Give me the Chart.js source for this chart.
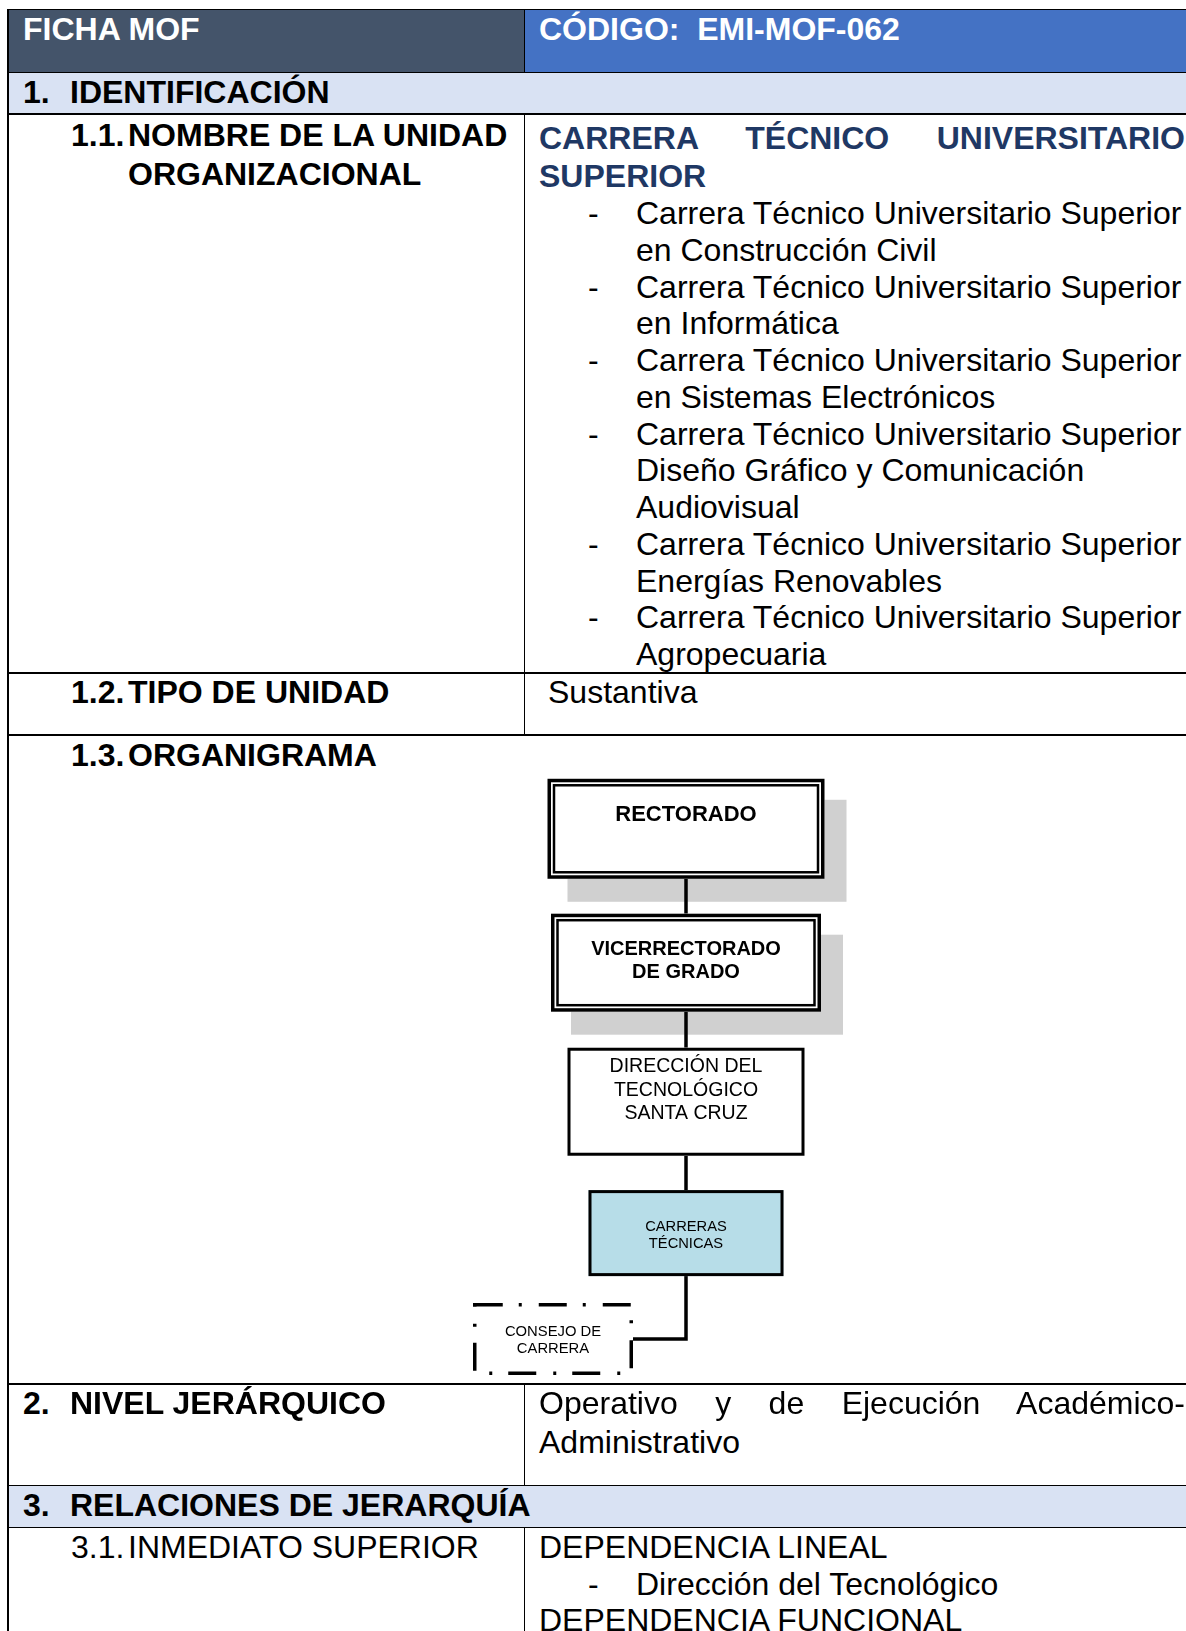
<!DOCTYPE html>
<html lang="es">
<head>
<meta charset="utf-8">
<title>FICHA MOF - EMI-MOF-062</title>
<script src="https://cdn.jsdelivr.net/npm/chart.js@4.4.1/dist/chart.umd.min.js"></script>
<style>
  html, body { margin: 0; padding: 0; background: #fff; }
  body { width: 1186px; height: 1631px; overflow: hidden; position: relative;
         font-family: "Liberation Sans", Arial, sans-serif; font-size: 32px; color: #000; }
  .abs { position: absolute; white-space: nowrap; line-height: 36.75px; }
  .b { font-weight: bold; }
  .fill { position: absolute; }
  .hl { position: absolute; background: #000; left: 7px; width: 1179px; }
  .vl { position: absolute; background: #000; left: 524px; width: 1px; }
  .just { text-align: justify; text-align-last: justify; white-space: normal; }
  #org { position: absolute; left: 420px; top: 765px; }
</style>
</head>
<body>

<!-- fondos -->
<div class="fill" style="left:8px;top:10px;width:516px;height:62px;background:#44546A"></div>
<div class="fill" style="left:525px;top:10px;width:661px;height:62px;background:#4472C4"></div>
<div class="fill" style="left:8px;top:73px;width:1178px;height:40px;background:#D9E2F3"></div>
<div class="fill" style="left:8px;top:1486px;width:1178px;height:41px;background:#D9E2F3"></div>

<!-- lineas de la tabla -->
<div class="hl" style="top:9px;height:1px"></div>
<div class="hl" style="top:72px;height:1px"></div>
<div class="hl" style="top:113px;height:1.5px"></div>
<div class="hl" style="top:672px;height:2px"></div>
<div class="hl" style="top:734px;height:2px"></div>
<div class="hl" style="top:1383px;height:1.5px"></div>
<div class="hl" style="top:1485px;height:1px"></div>
<div class="hl" style="top:1527px;height:1px"></div>
<div style="position:absolute;left:6.5px;top:9px;width:2px;height:1622px;background:#000"></div>
<div class="vl" style="top:10px;height:62px"></div>
<div class="vl" style="top:114px;height:558px"></div>
<div class="vl" style="top:674px;height:60px"></div>
<div class="vl" style="top:1384px;height:101px"></div>
<div class="vl" style="top:1528px;height:103px"></div>

<!-- cabecera -->
<div class="abs b" style="left:23px;top:11px;color:#fff">FICHA MOF</div>
<div class="abs b" style="left:539px;top:11px;color:#fff">CÓDIGO:&nbsp; EMI-MOF-062</div>

<!-- 1. identificacion -->
<div class="abs b" style="left:23px;top:73.5px">1.</div>
<div class="abs b" style="left:70px;top:73.5px">IDENTIFICACIÓN</div>

<div class="abs b" style="left:71px;top:116px;line-height:38.5px">1.1.</div>
<div class="abs b" style="left:128px;top:116px;line-height:38.5px">NOMBRE DE LA UNIDAD<br>ORGANIZACIONAL</div>

<div class="abs b just" style="left:539px;top:120px;width:646px;color:#1F3864;line-height:37.5px">CARRERA TÉCNICO UNIVERSITARIO</div>
<div class="abs b" style="left:539px;top:157.5px;color:#1F3864;line-height:37.5px">SUPERIOR</div>

<div id="lista"></div>

<div class="abs b" style="left:71px;top:674px">1.2.</div>
<div class="abs b" style="left:128px;top:674px">TIPO DE UNIDAD</div>
<div class="abs" style="left:548px;top:674px">Sustantiva</div>

<div class="abs b" style="left:71px;top:737px">1.3.</div>
<div class="abs b" style="left:128px;top:737px">ORGANIGRAMA</div>

<canvas id="org" width="532" height="625"></canvas>

<!-- 2. nivel -->
<div class="abs b" style="left:23px;top:1385px">2.</div>
<div class="abs b" style="left:70px;top:1385px">NIVEL JERÁRQUICO</div>
<div class="abs just" style="left:539px;top:1385px;width:646px">Operativo y de Ejecución Académico-</div>
<div class="abs" style="left:539px;top:1424px">Administrativo</div>

<!-- 3. relaciones -->
<div class="abs b" style="left:23px;top:1487px">3.</div>
<div class="abs b" style="left:70px;top:1487px">RELACIONES DE JERARQUÍA</div>

<div class="abs" style="left:71px;top:1529px">3.1.</div>
<div class="abs" style="left:128px;top:1529px">INMEDIATO SUPERIOR</div>
<div class="abs" style="left:539px;top:1529px">DEPENDENCIA LINEAL</div>
<div class="abs" style="left:588px;top:1566px">-</div>
<div class="abs" style="left:636px;top:1566px">Dirección del Tecnológico</div>
<div class="abs" style="left:539px;top:1602px">DEPENDENCIA FUNCIONAL</div>

<script>
// carreras de la unidad (cada una en dos o tres renglones, como en la ficha)
const carreras = [
    ['Carrera Técnico Universitario Superior', 'en Construcción Civil'],
    ['Carrera Técnico Universitario Superior', 'en Informática'],
    ['Carrera Técnico Universitario Superior', 'en Sistemas Electrónicos'],
    ['Carrera Técnico Universitario Superior', 'Diseño Gráfico y Comunicación', 'Audiovisual'],
    ['Carrera Técnico Universitario Superior', 'Energías Renovables'],
    ['Carrera Técnico Universitario Superior', 'Agropecuaria']
];

// organigrama: nombres, nivel jerarquico, columna y padre
const nodeNames = [
    'RECTORADO',
    'VICERRECTORADO\nDE GRADO',
    'DIRECCIÓN DEL\nTECNOLÓGICO\nSANTA CRUZ',
    'CARRERAS\nTÉCNICAS',
    'CONSEJO DE\nCARRERA'
];
const nodeLevel = [0, 1.05, 2.14, 3.17, 4];
const nodeColumn = [0, 0, 0, 0, -1];
const nodeParent = [-1, 0, 1, 2, 3];

// lista de carreras
let lista = document.getElementById('lista');
let y = 195;
carreras.forEach(c => {
    let d = document.createElement('div');
    d.className = 'abs';
    d.style.left = '588px';
    d.style.top = y + 'px';
    d.textContent = '-';
    lista.appendChild(d);
    c.forEach(line => {
        let t = document.createElement('div');
        t.className = 'abs';
        t.style.left = '636px';
        t.style.top = y + 'px';
        t.textContent = line;
        lista.appendChild(t);
        y += 36.75;
    });
});

// estilo de cada caja
const boxStyle = [
    { w: 277, h: 100, kind: 'double', shadow: true, font: 'bold 22px', lh: 23, shift: -14, fill: '#fff' },
    { w: 270, h: 98, kind: 'double', shadow: true, font: 'bold 20px', lh: 23, shift: -1.5, fill: '#fff' },
    { w: 237, h: 108, kind: 'solid', shadow: false, font: '19.5px', lh: 23.5, shift: -11.5, fill: '#fff' },
    { w: 195, h: 86, kind: 'solid', shadow: false, font: '14.7px', lh: 17.5, shift: 2.5, fill: '#B7DDE8' },
    { w: 160, h: 72, kind: 'dashdot', shadow: false, font: '14.8px', lh: 17.5, shift: 1.5, fill: 'rgba(0,0,0,0)' }
];

const orgPlugin = {
    id: 'orgBoxes',
    afterDatasetsDraw(chart) {
        const ctx = chart.ctx;
        const pts = chart.getDatasetMeta(0).data;
        ctx.save();

        // sombras primero
        pts.forEach((pt, i) => {
            const s = boxStyle[i];
            if (!s.shadow) return;
            ctx.fillStyle = '#D0D0D0';
            ctx.fillRect(pt.x - s.w / 2 + 20, pt.y - s.h / 2 + 21, s.w + 2, s.h + 2);
        });

        // conectores
        ctx.strokeStyle = '#000';
        ctx.lineWidth = 3.5;
        ctx.lineCap = 'butt';
        nodeParent.forEach((p, i) => {
            if (p < 0) return;
            const a = pts[p], b = pts[i];
            const top = a.y + boxStyle[p].h / 2;
            ctx.beginPath();
            if (Math.abs(a.x - b.x) < 1) {
                ctx.moveTo(a.x, top);
                ctx.lineTo(b.x, b.y - boxStyle[i].h / 2);
            } else {
                ctx.moveTo(a.x, top);
                ctx.lineTo(a.x, b.y);
                ctx.lineTo(b.x + boxStyle[i].w / 2, b.y);
            }
            ctx.stroke();
        });

        // cajas
        pts.forEach((pt, i) => {
            const s = boxStyle[i];
            const x0 = pt.x - s.w / 2, y0 = pt.y - s.h / 2;
            ctx.fillStyle = s.fill;
            ctx.fillRect(x0, y0, s.w, s.h);
            ctx.strokeStyle = '#000';
            ctx.setLineDash([]);
            if (s.kind === 'double') {
                ctx.lineWidth = 3.5;
                ctx.strokeRect(x0 + 1.75, y0 + 1.75, s.w - 3.5, s.h - 3.5);
                ctx.lineWidth = 2.5;
                ctx.strokeRect(x0 + 6.5, y0 + 6.5, s.w - 13, s.h - 13);
            } else if (s.kind === 'solid') {
                ctx.lineWidth = 3;
                ctx.strokeRect(x0 + 1.5, y0 + 1.5, s.w - 3, s.h - 3);
            } else {
                ctx.lineWidth = 3.5;
                ctx.setLineDash([28, 16, 3, 17]);
                ctx.strokeRect(x0 + 1.75, y0 + 1.75, s.w - 3.5, s.h - 3.5);
                ctx.setLineDash([]);
            }

            // texto
            const lines = nodeNames[i].split('\n');
            ctx.fillStyle = '#000';
            ctx.font = s.font + ' "Liberation Sans", Arial, sans-serif';
            ctx.textAlign = 'center';
            ctx.textBaseline = 'middle';
            const startY = pt.y + s.shift - (lines.length - 1) * s.lh / 2;
            lines.forEach((l, k) => ctx.fillText(l, pt.x, startY + k * s.lh));
        });
        ctx.restore();
    }
};

new Chart(document.getElementById('org'), {
    type: 'scatter',
    data: {
        datasets: [{
            data: nodeNames.map((n, i) => ({ x: nodeColumn[i], y: nodeLevel[i] })),
            pointRadius: 0,
            pointHoverRadius: 0
        }]
    },
    options: {
        responsive: false,
        animation: false,
        devicePixelRatio: 1,
        events: [],
        layout: { padding: 0 },
        plugins: { legend: { display: false }, tooltip: { enabled: false } },
        scales: {
            x: { type: 'linear', display: false, min: -2, max: 2 },
            y: { type: 'linear', display: false, reverse: true, min: -0.5, max: 4.4 }
        }
    },
    plugins: [orgPlugin]
});
</script>
</body>
</html>
